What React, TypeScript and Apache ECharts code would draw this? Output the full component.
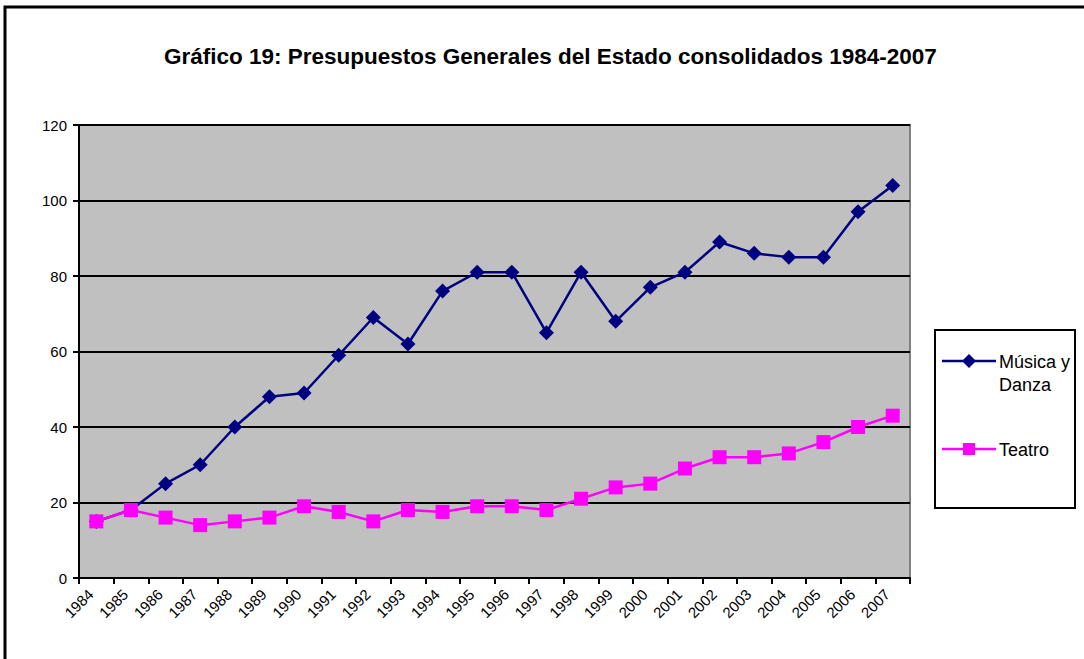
import React, { useEffect, useRef } from "react";
import * as echarts from "echarts";

const years = ["1984","1985","1986","1987","1988","1989","1990","1991","1992","1993","1994","1995","1996","1997","1998","1999","2000","2001","2002","2003","2004","2005","2006","2007"];
const musicaDanza = [15, 18, 25, 30, 40, 48, 49, 59, 69, 62, 76, 81, 81, 65, 81, 68, 77, 81, 89, 86, 85, 85, 97, 104];
const teatro = [15, 18, 16, 14, 15, 16, 19, 17.5, 15, 18, 17.5, 19, 19, 18, 21, 24, 25, 29, 32, 32, 33, 36, 40, 43];
const titleText = "Gráfico 19: Presupuestos Generales del Estado consolidados 1984-2007";
const seriesNames = ["Música y Danza", "Teatro"];
const legendLabels = ["Música y\nDanza", "Teatro"];
const colors = ["#000080", "#FF00FF"];

export default function App() {
  const ref = useRef<HTMLDivElement>(null);
  useEffect(() => {
    if (!ref.current) return;
    const chart = echarts.init(ref.current, null, { renderer: "svg" });
    const font = "Arial, 'Liberation Sans', sans-serif";
    chart.setOption({
      animation: false,
      backgroundColor: "#ffffff",
      title: {
        text: titleText,
        left: 159,
        top: 40,
        textStyle: { fontFamily: font, fontWeight: "bold", fontSize: 22.5, color: "#000" },
      },
      graphic: [
        {
          type: "rect",
          shape: { x: 5, y: 7, width: 1200, height: 800 },
          style: { fill: "none", stroke: "#000", lineWidth: 3 },
          z: 100,
        },
        {
          type: "rect",
          shape: { x: 79, y: 125, width: 831, height: 453 },
          style: { fill: "#C0C0C0", stroke: "#808080", lineWidth: 2 },
          z: -10,
        },
        {
          type: "rect",
          shape: { x: 935, y: 330, width: 140, height: 178 },
          style: { fill: "#fff", stroke: "#000", lineWidth: 2 },
          z: 0,
        },
        {
          type: "line",
          shape: { x1: 942, y1: 361, x2: 996, y2: 361 },
          style: { stroke: colors[0], lineWidth: 2.5 },
          z: 1,
        },
        {
          type: "polygon",
          shape: { points: [[969, 354], [976, 361], [969, 368], [962, 361]] },
          style: { fill: colors[0] },
          z: 2,
        },
        {
          type: "text",
          x: 999,
          y: 350,
          style: { text: legendLabels[0], font: "18px Arial, 'Liberation Sans', sans-serif", fill: "#000", lineHeight: 23 },
          z: 2,
        },
        {
          type: "line",
          shape: { x1: 942, y1: 449, x2: 996, y2: 449 },
          style: { stroke: colors[1], lineWidth: 2.5 },
          z: 1,
        },
        {
          type: "rect",
          shape: { x: 963, y: 443, width: 12, height: 12 },
          style: { fill: colors[1] },
          z: 2,
        },
        {
          type: "text",
          x: 999,
          y: 438,
          style: { text: legendLabels[1], font: "18px Arial, 'Liberation Sans', sans-serif", fill: "#000", lineHeight: 23 },
          z: 2,
        },
      ],
      grid: { left: 79, right: 174, top: 125, bottom: 81, containLabel: false },
      xAxis: {
        type: "category",
        data: years,
        boundaryGap: true,
        axisLine: { lineStyle: { color: "#000", width: 2 } },
        axisTick: { show: true, length: 6, lineStyle: { color: "#000", width: 2 } },
        axisLabel: { rotate: 45, fontFamily: font, fontSize: 15, color: "#000", margin: 8, interval: 0, padding: [0, 8, 0, 0] },
      },
      yAxis: {
        type: "value",
        min: 0,
        max: 120,
        interval: 20,
        axisLine: { show: true, lineStyle: { color: "#000", width: 2 } },
        axisTick: { show: true, length: 6, lineStyle: { color: "#000", width: 2 } },
        axisLabel: { fontFamily: font, fontSize: 15, color: "#000", margin: 12 },
        splitLine: { show: true, lineStyle: { color: "#000", width: 2 } },
      },
      series: [
        {
          name: seriesNames[0],
          type: "line",
          data: musicaDanza,
          symbol: "diamond",
          symbolSize: 15,
          itemStyle: { color: colors[0] },
          lineStyle: { color: colors[0], width: 2.5 },
          z: 3,
        },
        {
          name: seriesNames[1],
          type: "line",
          data: teatro,
          symbol: "rect",
          symbolSize: 14,
          itemStyle: { color: colors[1] },
          lineStyle: { color: colors[1], width: 2.5 },
          z: 4,
        },
      ],
    });
    return () => chart.dispose();
  }, []);
  return (
    <div
      ref={ref}
      style={{ position: "fixed", left: 0, top: 0, width: 1084, height: 659 }}
    />
  );
}
